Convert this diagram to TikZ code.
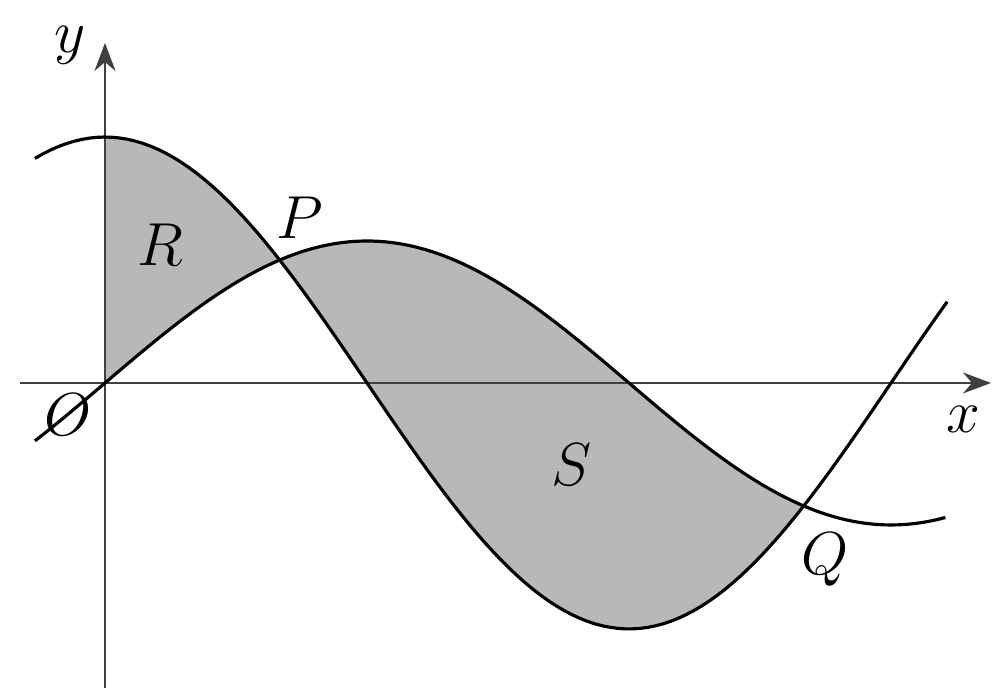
\documentclass[tikz,border=0pt]{standalone}
\usetikzlibrary{arrows.meta}
\tikzset{
    axis/.style={draw=black!75,line width=0.5pt,-{Stealth[length=8pt,width=6pt]}},
    curve/.style={draw=black,line width=0.9pt},
    region/.style={fill=black!28},
    lbl/.style={font=\fontsize{16}{19}\selectfont}
}
\begin{document}
\begin{tikzpicture}
    \useasboundingbox (0,0) rectangle (9.93,6.88);
    \begin{scope}[shift={(1.05,3.05)}]
    % shaded regions
    \fill[region,xscale=1.668,yscale=1.42] plot[domain=0:pi/3,samples=40] (\x,{sqrt(3)*cos(\x r)}) -- plot[domain=pi/3:0,samples=40] (\x,{sin(\x r)}) -- cycle;
    \fill[region,xscale=1.668,yscale=1.42] plot[domain=pi/3:4*pi/3,samples=80] (\x,{sin(\x r)}) -- plot[domain=4*pi/3:pi/3,samples=80] (\x,{sqrt(3)*cos(\x r)}) -- cycle;
    % axes
    \coordinate (xl) at (-0.85,0);
    \coordinate (xr) at (8.86,0);
    \coordinate (yb) at (0,-3.1);
    \coordinate (yt) at (0,3.4);
    \draw[axis] (xl) -- (xr);
    \draw[axis] (yb) -- (yt);
    % curves
    \draw[curve,xscale=1.668,yscale=1.42] plot[domain=-0.42:5.05,samples=120] (\x,{sqrt(3)*cos(\x r)});
    \draw[curve,xscale=1.668,yscale=1.42] plot[domain=-0.42:5.04,samples=120] (\x,{sin(\x r)});
    \coordinate (P) at ({1.668*pi/3},{1.42*sin(60)});
    \coordinate (Q) at ({1.668*4*pi/3},{1.42*sin(240)});
    % labels
    \node[lbl] (ylab) at (-0.35,3.38) {$y$};
    \node[lbl,anchor=east] (xlab) at (8.88,-0.36) {$x$};
    \node[lbl] (olab) at (-0.37,-0.32) {$O$};
    \node[lbl] (rlab) at (0.55,1.38) {$R$};
    \node[lbl] (plab) at (1.95,1.65) {$P$};
    \node[lbl] (slab) at (4.67,-0.82) {$S$};
    \node[lbl] (qlab) at (7.2,-1.77) {$Q$};
    \end{scope}
\end{tikzpicture}
\end{document}
